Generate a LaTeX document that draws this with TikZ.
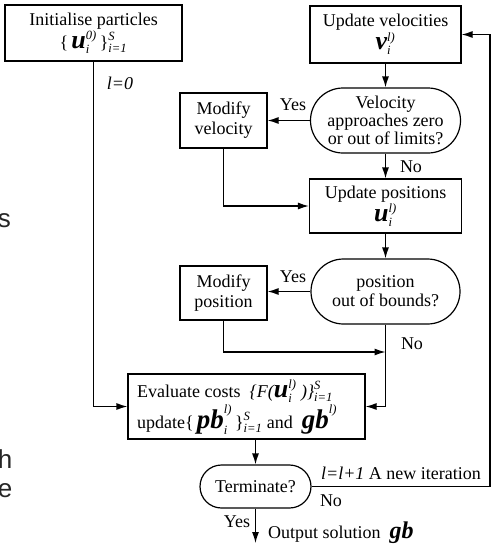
\documentclass[tikz,border=0pt]{standalone}
\usepackage{amsmath}
\usepackage{fontspec}
\setmainfont{Liberation Serif}
\setsansfont{Liberation Sans}
\usetikzlibrary{arrows.meta,shapes.misc}
\newcommand{\bvar}[4]{\text{\fontsize{#4}{#4}\selectfont\bfseries\itshape #1}^{\text{\itshape #2}}_{\text{\itshape #3}}}
\newcommand{\brc}{\text{\}}^{\text{\itshape S}}_{\text{\itshape i=1}}}
\begin{document}
\begin{tikzpicture}[x=1pt,y=-1pt,font=\fontsize{18}{18}\selectfont,
  box/.style={draw,line width=1.2pt,inner sep=0pt,align=center},
  dec/.style={draw,line width=1.2pt,rounded rectangle,inner sep=0pt,align=center},
  arr/.style={-{Latex[length=11pt,width=7pt]},line width=1.2pt},
  lab/.style={inner sep=0pt},
  stray/.style={inner sep=0pt,font=\sffamily\fontsize{26}{26}\selectfont,text=black!85}]
\useasboundingbox (0,0) rectangle (495,544);
% stray page text fragments
\node[stray,anchor=base east] (s1) at (11,227) {s};
\node[stray,anchor=base east] (s2) at (12.5,468) {h};
\node[stray,anchor=base east] (s3) at (12.5,497) {e};
% nodes
\node[box,minimum width=177pt,minimum height=56pt] (init) at (93.5,33)
  {Initialise particles\\[1pt] \{\,$\bvar{u}{0)}{i}{26}$\,$\brc$};
\node[box,minimum width=151pt,minimum height=57pt] (vel) at (385.5,34.5)
  {Update velocities\\[1pt] $\bvar{v}{l)}{i}{26}$};
\node[dec,minimum width=150pt,minimum height=65pt] (vdec) at (385.5,120.5)
  {Velocity\\approaches zero\\or out of limits?};
\node[box,minimum width=87pt,minimum height=55pt] (modv) at (223.5,120.5)
  {Modify\\[2pt]velocity};
\node[box,minimum width=152pt,minimum height=54pt] (upos) at (385.5,206)
  {Update positions\\[1pt] $\bvar{u}{l)}{i}{26}$};
\node[dec,minimum width=149pt,minimum height=65pt] (pdec) at (385.5,291.5)
  {position\\[1pt]out of bounds?};
\node[box,minimum width=87pt,minimum height=54pt] (modp) at (223.5,293)
  {Modify\\[2pt]position};
\node[box,minimum width=237pt,minimum height=65pt] (eval) at (246.5,406.5) {};
\node[lab,anchor=base west] (ev1) at (137,397)
  {Evaluate costs\ \ $\text{\itshape\{F(}\bvar{u}{l)}{i}{26}\text{\itshape\ )\}}^{\text{\itshape S}}_{\text{\itshape i=1}}$};
\node[lab,anchor=base west] (ev2) at (137,428)
  {update\{\,$\bvar{pb}{l)}{i}{27}$\,$\brc$ and\ \ $\text{\fontsize{27}{27}\selectfont\bfseries\itshape gb}^{\text{\itshape l)}}$};
\node[dec,minimum width=111pt,minimum height=43pt] (term) at (255.5,486.5) {Terminate?};
% labels
\node[lab] (l0) at (120,83) {\textit{l=0}};
\node[lab] (y1) at (293,105) {Yes};
\node[lab] (n1) at (411,167) {No};
\node[lab] (y2) at (293,277) {Yes};
\node[lab] (n2) at (412,344) {No};
\node[lab] (it) at (401,473) {\textit{l=l+1} A new iteration};
\node[lab] (n3) at (331,501) {No};
\node[lab] (y3) at (237,522) {Yes};
\node[lab,anchor=base west] (outl) at (268,538) {Output solution\ \ {\fontsize{24}{24}\selectfont\bfseries\itshape gb}};
% connectors
\coordinate (j1) at (385.5,352);
\coordinate (c1) at (490,488);
\coordinate (out) at (255.5,543);
\draw[arr] (init.south) |- (eval.west);
\draw[arr] (vel.south) -- (vdec.north);
\draw[arr] (vdec.west) -- (modv.east |- vdec.west);
\draw[arr] (vdec.south) -- (upos.north);
\draw[arr] (modv.south) |- (upos.west);
\draw[arr] (upos.south) -- (pdec.north);
\draw[arr] (pdec.west) -- (modp.east |- pdec.west);
\draw[arr] (modp.south) |- (j1);
\draw[arr] (pdec.south) |- (eval.east);
\draw[arr] (term.north |- eval.south) -- (term.north);
\draw[arr] (term.east) -- (c1 |- term.east) -- (c1 |- vel.east) -- (vel.east);
\draw[arr] (term.south) -- (out);
\end{tikzpicture}
\end{document}
